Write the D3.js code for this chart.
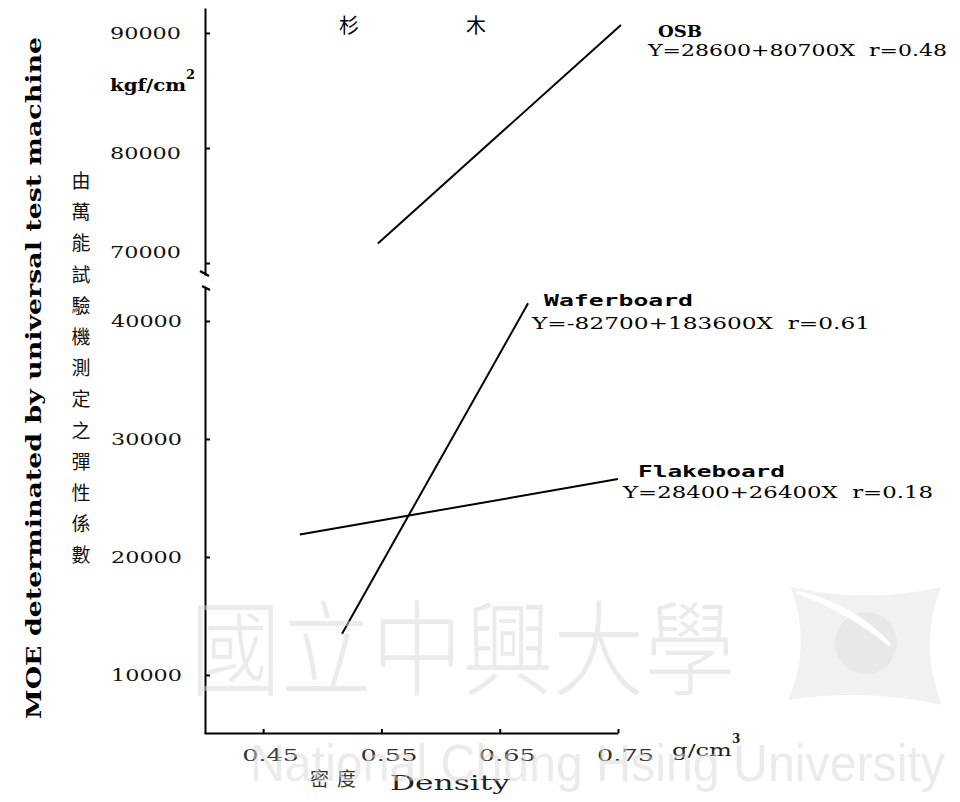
<!DOCTYPE html>
<html><head><meta charset="utf-8">
<script src="https://cdn.jsdelivr.net/npm/d3@7"></script>
<style>body{margin:0;background:#fff}</style>
</head><body><svg id="c" width="960" height="802"></svg>
<script>
// ---- data ----
const xTicks = [0.45, 0.55, 0.65, 0.75];
const yTopTicks = [70000, 80000, 90000];
const yBottomTicks = [10000, 20000, 30000, 40000];
const seriesNames = ["OSB", "Waferboard", "Flakeboard"];
const seriesEquations = ["Y=28600+80700X  r=0.48", "Y=-82700+183600X  r=0.61", "Y=28400+26400X  r=0.18"];
const seriesPanel = ["top", "bottom", "bottom"];
const densityStart = [0.547, 0.5167, 0.481];
const densityEnd = [0.7525, 0.674, 0.75];
const moeStart = [71700, 13500, 21900];
const moeEnd = [90700, 41500, 26600];
const titleText = ["杉", "木"];
const yTitleEn = "MOE determinated by universal test machine";
const yTitleZh = "由萬能試驗機測定之彈性係數";

// ---- layout ----
const svg = d3.select("#c");
const x = d3.scaleLinear().domain([0.40, 0.75]).range([204, 618]);
const yTop = d3.scaleLinear().domain([68960, 92170]).range([275, 8]);
const yBot = d3.scaleLinear().domain([5080, 42880]).range([733, 287]);
const yFor = p => p === "top" ? yTop : yBot;
const axisX = 205;

const numFont = "'DejaVu Serif', 'Liberation Serif', serif";

// y axes
const gTop = svg.append("g").attr("transform", `translate(${axisX},0)`)
  .call(d3.axisLeft(yTop).tickValues(yTopTicks).tickSizeInner(-5).tickSizeOuter(0).tickPadding(24).tickFormat(d3.format("d")));
const gBot = svg.append("g").attr("transform", `translate(${axisX},0)`)
  .call(d3.axisLeft(yBot).tickValues(yBottomTicks).tickSizeInner(-5).tickSizeOuter(0).tickPadding(23).tickFormat(d3.format("d")));
[gTop, gBot].forEach(g => {
  g.select(".domain").attr("stroke", "#000").attr("stroke-width", 2);
  g.selectAll(".tick line").attr("stroke", "#000").attr("stroke-width", 2);
  g.selectAll(".tick text").attr("font-family", numFont).attr("font-size", 17)
    .attr("fill", "#111").attr("textLength", 71).attr("lengthAdjust", "spacingAndGlyphs");
});
gTop.selectAll(".tick text").filter(d => d === 70000).attr("dy", "-0.3em");
gTop.selectAll(".tick text").filter(d => d === 80000).attr("dy", "0.6em");

// break marks
svg.append("path").attr("d", `M${axisX-5},${yTop.range()[0]-4} L${axisX+4},${yTop.range()[0]+1}`)
  .attr("stroke", "#000").attr("stroke-width", 2.5);
svg.append("path").attr("d", `M${axisX-3},${yBot.range()[1]-1} L${axisX+5},${yBot.range()[1]+3}`)
  .attr("stroke", "#000").attr("stroke-width", 2.5);

// x axis
const gX = svg.append("g").attr("transform", `translate(0,${yBot.range()[0]})`)
  .call(d3.axisBottom(x).tickValues(xTicks).tickSizeInner(-4).tickSizeOuter(0).tickPadding(16).tickFormat(d3.format(".2f")));
gX.select(".domain").attr("stroke", "#000").attr("stroke-width", 2);
gX.selectAll(".tick line").attr("stroke", "#000").attr("stroke-width", 2);
gX.selectAll(".tick text").attr("font-family", numFont).attr("font-size", 17).attr("fill", "#333")
  .attr("dx", 7).attr("textLength", 57).attr("lengthAdjust", "spacingAndGlyphs");

// units
const kgf = svg.append("text").attr("x", 110).attr("y", 91).attr("font-family", numFont)
  .attr("font-size", 17).attr("font-weight", "bold").attr("fill", "#000");
kgf.append("tspan").text("kgf/cm").attr("textLength", 76).attr("lengthAdjust", "spacingAndGlyphs");
kgf.append("tspan").text("2").attr("font-size", 13).attr("dy", -12);
const gcm = svg.append("text").attr("x", 672).attr("y", 756).attr("font-family", numFont)
  .attr("font-size", 17).attr("fill", "#222");
gcm.append("tspan").text("g/cm").attr("textLength", 60).attr("lengthAdjust", "spacingAndGlyphs");
gcm.append("tspan").text("3").attr("font-size", 12).attr("dy", -13).attr("font-weight", "bold");

// title
svg.append("text").attr("x", 349).attr("y", 33).attr("text-anchor", "middle")
  .attr("font-family", "'Noto Sans CJK TC'").attr("font-size", 20).text(titleText[0]);
svg.append("text").attr("x", 476).attr("y", 33).attr("text-anchor", "middle")
  .attr("font-family", "'Noto Sans CJK TC'").attr("font-size", 20).text(titleText[1]);

// y titles
svg.append("text").attr("transform", "translate(41,378) rotate(-90)").attr("text-anchor", "middle")
  .attr("font-family", "'DejaVu Serif', serif").attr("font-weight", "bold").attr("font-size", 21)
  .attr("textLength", 682).attr("lengthAdjust", "spacingAndGlyphs").text(yTitleEn);
const zhChars = Array.from(yTitleZh);
svg.append("g").selectAll("text").data(zhChars).join("text")
  .attr("x", 81).attr("y", (d, i) => 188 + i * 31.2).attr("text-anchor", "middle")
  .attr("font-family", "'Noto Sans CJK TC'").attr("font-size", 19).attr("fill", "#111").text(d => d);

// x titles
svg.append("text").attr("x", 310).attr("y", 786).attr("font-family", "'Noto Sans CJK TC'")
  .attr("font-size", 19).attr("fill", "#333").attr("textLength", 46).text("密度");
svg.append("text").attr("x", 390).attr("y", 790).attr("font-family", numFont)
  .attr("font-size", 20).attr("fill", "#222").attr("textLength", 120).attr("lengthAdjust", "spacingAndGlyphs").text("Density");

// lines
const line = d3.line();
seriesNames.forEach((name, i) => {
  const ys = yFor(seriesPanel[i]);
  svg.append("path")
    .attr("d", line([[x(densityStart[i]), ys(moeStart[i])], [x(densityEnd[i]), ys(moeEnd[i])]]))
    .attr("stroke", "#000").attr("stroke-width", 2).attr("fill", "none");
});

// series labels
const nameFont = "'DejaVu Sans Mono', 'Liberation Mono', monospace";
const labelPos = [
  {nx: 658, ny: 37, nw: 44, ex: 648, ey: 56, ew: 299},
  {nx: 544, ny: 306, nw: 149, ex: 532, ey: 329, ew: 338},
  {nx: 638, ny: 477, nw: 147, ex: 623, ey: 498, ew: 310}
];
seriesNames.forEach((name, i) => {
  const p = labelPos[i];
  svg.append("text").attr("x", p.nx).attr("y", p.ny).attr("font-family", i === 0 ? numFont : nameFont)
    .attr("font-weight", "bold").attr("font-size", 16).attr("textLength", p.nw)
    .attr("lengthAdjust", "spacingAndGlyphs").text(name);
  svg.append("text").attr("x", p.ex).attr("y", p.ey).attr("font-family", numFont)
    .attr("font-size", 17).attr("textLength", p.ew).attr("lengthAdjust", "spacingAndGlyphs")
    .attr("xml:space", "preserve").text(seriesEquations[i]);
});

// watermark overlay
const wmFill = "#d8d8d8";
const wm = svg.append("g").attr("pointer-events", "none");
wm.append("text").attr("x", 190).attr("y", 688).attr("font-family", "'Noto Sans CJK TC'")
  .attr("font-weight", 200)
  .attr("font-size", 104).attr("fill", wmFill).attr("fill-opacity", 0.5)
  .attr("textLength", 545).attr("lengthAdjust", "spacingAndGlyphs").text("國立中興大學");
wm.append("text").attr("x", 250).attr("y", 781).attr("font-family", "'Liberation Sans', Arial, sans-serif")
  .attr("font-size", 52).attr("fill", wmFill).attr("fill-opacity", 0.5)
  .attr("textLength", 695).attr("lengthAdjust", "spacingAndGlyphs").text("National Chung Hsing University");
wm.append("path")
  .attr("d", "M791,587 Q866,604 941,587 Q918,646 942,705 Q866,688 788,700 Q812,646 791,587 Z")
  .attr("fill", wmFill).attr("fill-opacity", 0.35);
wm.append("circle").attr("cx", 866).attr("cy", 643).attr("r", 31)
  .attr("fill", wmFill).attr("fill-opacity", 0.35);
wm.append("path")
  .attr("d", "M797,592 Q855,606 890,645 Q850,612 797,592 Z")
  .attr("fill", "#ffffff").attr("fill-opacity", 0.9)
  .attr("stroke", "#fff").attr("stroke-width", 3);
</script></body></html>
